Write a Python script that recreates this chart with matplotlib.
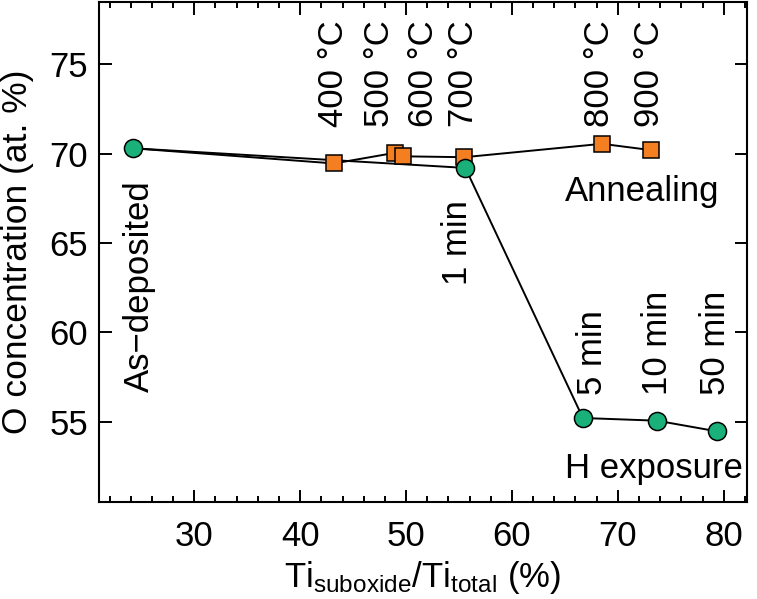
import matplotlib
matplotlib.use("Agg")
import matplotlib.pyplot as plt

plt.rcParams['font.family'] = ['Liberation Sans', 'DejaVu Sans']
plt.rcParams['mathtext.fontset'] = 'custom'
plt.rcParams['mathtext.rm'] = 'Liberation Sans'
plt.rcParams['mathtext.it'] = 'Liberation Sans:italic'

# H exposure series (starts at as-deposited)
h_x = [24.2, 55.6, 66.7, 73.7, 79.4]
h_y = [70.3, 69.2, 55.2, 55.05, 54.45]
h_labels = ["As\u2212deposited", "1 min", "5 min", "10 min", "50 min"]

# Annealing series (starts at as-deposited)
a_x = [24.2, 43.2, 49.0, 49.7, 55.5, 68.5, 73.1]
a_y = [70.3, 69.45, 70.05, 69.85, 69.8, 70.55, 70.2]
a_labels = ["400 °C", "500 °C", "600 °C", "700 °C", "800 °C", "900 °C"]

green = "#19b07a"
orange = "#f47f20"

fig = plt.figure(figsize=(7.57, 5.99), dpi=100)
ax = fig.add_axes([0.1308, 0.162, 0.856, 0.835])

ax.plot(a_x, a_y, color="black", lw=1.4, zorder=2)
ax.plot(h_x, h_y, color="black", lw=1.4, zorder=2)
ax.plot(a_x[1:], a_y[1:], ls="none", marker="s", ms=11, mfc=orange,
        mec="black", mew=1.1, zorder=3)
ax.plot(h_x, h_y, ls="none", marker="o", ms=13, mfc=green,
        mec="black", mew=1.1, zorder=4)

fs = 25
# annealing temperature labels
temp_pos = [43.1, 47.5, 51.6, 55.4, 68.3, 73.0]
for xp, lab in zip(temp_pos, a_labels):
    ax.text(xp, 71.5, lab, rotation=90, ha="center", va="bottom", fontsize=fs)

# H exposure labels
ax.text(24.85, 68.5, h_labels[0], rotation=90, ha="center", va="top", fontsize=fs)
ax.text(54.9, 67.4, h_labels[1], rotation=90, ha="center", va="top", fontsize=fs)
for xp, lab in zip([67.6, 73.7, 79.2], h_labels[2:]):
    ax.text(xp, 56.5, lab, rotation=90, ha="center", va="bottom", fontsize=fs)

ax.text(79.6, 67.9, "Annealing", ha="right", va="center", fontsize=fs)
ax.text(81.8, 52.4, "H exposure", ha="right", va="center", fontsize=fs)

ax.set_xlim(21.0, 82.2)
ax.set_ylim(50.5, 78.5)
ax.set_xticks([30, 40, 50, 60, 70, 80])
ax.set_xticks(range(22, 83, 2), minor=True)
ax.set_yticks([55, 60, 65, 70, 75])

ax.tick_params(axis="both", which="both", direction="in", top=True, right=True,
               labelsize=fs, width=1.4)
ax.tick_params(axis="both", which="major", length=9)
ax.tick_params(axis="x", which="minor", length=4)
ax.tick_params(axis="x", which="major", pad=13)
ax.tick_params(axis="y", which="major", pad=8)
for s in ax.spines.values():
    s.set_linewidth(1.5)

ax.set_xlabel(r"Ti$_{\mathrm{suboxide}}$/Ti$_{\mathrm{total}}$ (%)", fontsize=fs)
ax.set_ylabel("O concentration (at. %)", fontsize=25.5)
ax.xaxis.set_label_coords(0.5, -0.115)
ax.yaxis.set_label_coords(-0.1, 0.5)

fig.savefig("out.png", dpi=100)
